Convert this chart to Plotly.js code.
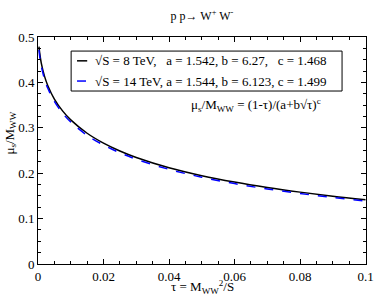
<!DOCTYPE html>
<html><head><meta charset="utf-8">
<script src="https://cdn.plot.ly/plotly-3.0.1.min.js"></script>
<style>html,body{margin:0;padding:0;background:#fff}#c{width:374px;height:296px}</style>
</head><body><div id="c"></div>
<script>
var tau = [0.0003,0.0005,0.001,0.002,0.003,0.005,0.0075,0.01,0.015,0.02,0.025,0.03,0.04,0.05,0.06,0.07,0.08,0.09,0.1];
var mu8 = [0.4791,0.4658,0.4429,0.4135,0.3930,0.3636,0.3375,0.3177,0.2882,0.2664,0.2491,0.2348,0.2122,0.1947,0.1805,0.1686,0.1584,0.1495,0.1416];
var mu14 = [0.4719,0.4589,0.4364,0.4074,0.3872,0.3582,0.3325,0.3129,0.2837,0.2622,0.2451,0.2310,0.2086,0.1913,0.1772,0.1654,0.1554,0.1466,0.1388];
var xTickVals = [0, 0.02, 0.04, 0.06, 0.08, 0.1];
var xTickText = ["0", "0.02", "0.04", "0.06", "0.08", "0.1"];
var yTickVals = [0, 0.1, 0.2, 0.3, 0.4, 0.5];
var yTickText = ["0", "0.1", "0.2", "0.3", "0.4", "0.5"];
var legendLabels = ["\u221AS = 8 TeV,\u00A0\u00A0\u00A0a = 1.542, b = 6.27,\u00A0\u00A0\u00A0c = 1.468",
                    "\u221AS = 14 TeV, a = 1.544, b = 6.123, c = 1.499"];
var font = "Liberation Serif";
var traces = [
  {x: tau, y: mu8, mode: "lines", line: {color: "#000000", width: 1.5, shape: "spline"}, showlegend: false},
  {x: tau, y: mu14, mode: "lines", line: {color: "#0000ff", width: 1.5, dash: "dash", shape: "spline"}, showlegend: false}
];
var axisCommon = {showgrid: false, zeroline: false, showline: true, linecolor: "#000", linewidth: 1,
  mirror: "ticks", ticks: "inside", ticklen: 5, tickcolor: "#000", tickmode: "array",
  tickfont: {family: font, size: 13, color: "#000"}};
var layout = {
  width: 374, height: 296,
  margin: {l: 38, r: 8, t: 37, b: 32},
  paper_bgcolor: "#fff", plot_bgcolor: "#fff",
  font: {family: font, color: "#000"},
  title: {text: "p p\u2192 W<sup>+</sup> W<sup>-</sup>", font: {family: font, size: 12}, x: 0.54, xanchor: "center", y: 0.945, yanchor: "middle"},
  xaxis: Object.assign({}, axisCommon, {range: [0, 0.10015], tickvals: xTickVals, ticktext: xTickText,
    minor: {dtick: 0.005, ticks: "inside", ticklen: 3, tickcolor: "#000"}}),
  yaxis: Object.assign({}, axisCommon, {range: [0, 0.5003], tickvals: yTickVals, ticktext: yTickText,
    minor: {dtick: 0.025, ticks: "inside", ticklen: 3, tickcolor: "#000"}}),
  shapes: [
    {type: "rect", xref: "paper", yref: "paper", x0: 0.101, x1: 0.927, y0: 0.762, y1: 0.938, line: {color: "#000", width: 1}, fillcolor: "#fff", layer: "above"},
    {type: "line", xref: "paper", yref: "paper", x0: 0.119, x1: 0.15, y0: 0.895, y1: 0.895, line: {color: "#000", width: 1.5}},
    {type: "line", xref: "paper", yref: "paper", x0: 0.119, x1: 0.15, y0: 0.806, y1: 0.806, line: {color: "#0000ff", width: 1.5, dash: "dash"}}
  ],
  annotations: [
    {xref: "paper", yref: "paper", x: 0.168, y: 0.895, xanchor: "left", yanchor: "middle", text: legendLabels[0], showarrow: false, font: {family: font, size: 13, color: "#000"}},
    {xref: "paper", yref: "paper", x: 0.168, y: 0.806, xanchor: "left", yanchor: "middle", text: legendLabels[1], showarrow: false, font: {family: font, size: 13, color: "#000"}},
    {xref: "paper", yref: "paper", x: 0.46, y: 0.7, xanchor: "left", yanchor: "middle", text: "\u03BC<sub>s</sub>/M<sub>WW</sub> = (1-\u03C4)/(a+b\u221A\u03C4)<sup>c</sup>", showarrow: false, font: {family: font, size: 13, color: "#000"}},
    {xref: "paper", yref: "paper", x: 0.5, y: -0.103, xanchor: "center", yanchor: "middle", text: "\u03C4 = M<sub>WW</sub><sup>2</sup>/S", showarrow: false, font: {family: font, size: 13, color: "#000"}},
    {xref: "paper", yref: "paper", x: -0.085, y: 0.575, xanchor: "center", yanchor: "middle", textangle: -90, text: "\u03BC<sub>s</sub>/M<sub>WW</sub>", showarrow: false, font: {family: font, size: 13, color: "#000"}}
  ]
};
Plotly.newPlot("c", traces, layout, {staticPlot: true, displayModeBar: false});
</script></body></html>
